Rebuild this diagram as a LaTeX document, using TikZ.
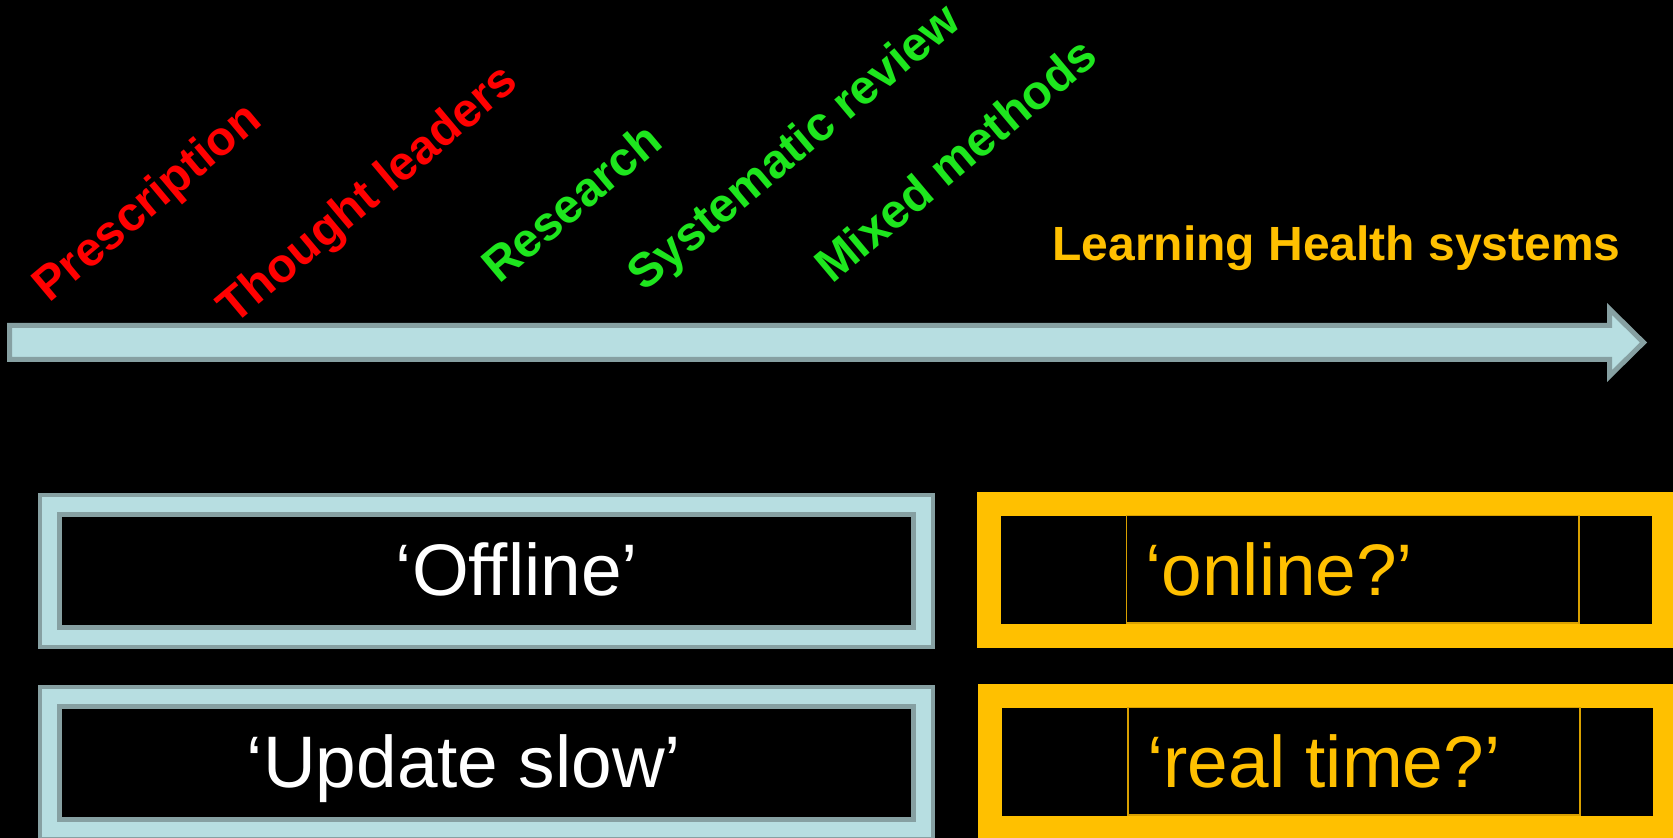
\documentclass[tikz,border=0pt]{standalone}
\usepackage{fontspec}
\setmainfont{Liberation Sans}
\usetikzlibrary{positioning}
\definecolor{lhsgold}{HTML}{FFC000}
\definecolor{lhsgoldline}{HTML}{D9A000}
\definecolor{pale}{HTML}{B7DEE1}
\definecolor{paleedge}{HTML}{86A0A2}
\definecolor{evgreen}{RGB}{30,230,30}
\tikzset{
  stage/.style={font=\fontsize{24}{28}\selectfont\bfseries, rotate=40, anchor=base west, inner sep=0pt},
  oldbox/.style={fill=pale, draw=paleedge, line width=2pt},
  oldpane/.style={fill=black, draw=paleedge, line width=2.5pt},
  newframe/.style={draw=lhsgold, line width=12pt},
  newpane/.style={draw=lhsgoldline, line width=0.7pt},
  bigtext/.style={font=\fontsize{36.5}{42}\selectfont, inner sep=0pt}
}

\begin{document}
\begin{tikzpicture}[x=0.5pt, y=-0.5pt]
  \clip (0,0) rectangle (1673,838);
  \fill[black] (0,0) rectangle (1673,838);

  % time line
  \draw[fill=pale, draw=paleedge, line width=2.5pt, line join=miter]
    (9.5,325.5) -- (1609.5,325.5) -- (1609.5,309) -- (1643.5,342.5)
    -- (1609.5,376) -- (1609.5,359.5) -- (9.5,359.5) -- cycle;

  \node[stage, text=red] (prescription) at (49,304) {Prescription};
  \node[stage, text=red] (thought) at (234,326) {Thought leaders};
  \node[stage, text=evgreen] (research) at (499,285) {Research};
  \node[stage, text=evgreen] (sysreview) at (644,293) {Systematic review};
  \node[stage, text=evgreen] (mixed) at (832,285) {Mixed methods};
  \node[font=\fontsize{24}{28}\selectfont\bfseries, text=lhsgold, anchor=base west, inner sep=0pt]
    (lhs) at (1052,261) {Learning Health systems};

  % old way
  \draw[oldbox] (40,495) rectangle (933,647);
  \draw[oldpane] (59.5,514.5) rectangle (913.5,627.5);
  \draw[oldbox] (40,687) rectangle (933,839);
  \draw[oldpane] (59.5,706.5) rectangle (913.5,819.5);
  \node[bigtext, text=white, anchor=base] (offline) at (517,595) {‘Offline’};
  \node[bigtext, text=white, anchor=base] (slow) at (464,787) {‘Update slow’};

  % learning health system
  \draw[newframe] (989,504) rectangle (1664,636);
  \draw[newpane] (1126.5,515.5) rectangle (1579,623);
  \draw[newframe] (990,696) rectangle (1665,828);
  \draw[newpane] (1128,707.5) rectangle (1580,815);
  \node[bigtext, text=lhsgold, anchor=base west] (online) at (1145,595) {‘online?’};
  \node[bigtext, text=lhsgold, anchor=base west] (realtime) at (1147,787) {‘real time?’};
\end{tikzpicture}
\end{document}
